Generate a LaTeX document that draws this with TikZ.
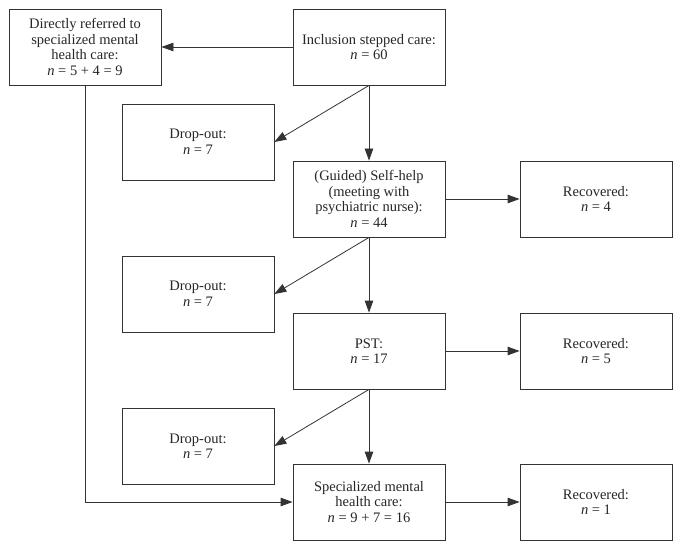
\documentclass[tikz,border=0pt]{standalone}
\usepackage{fontspec}
\setmainfont{Liberation Serif}
\usetikzlibrary{arrows.meta}

\tikzset{
    stagebox/.style={draw=black!80, line width=0.8pt, minimum width=152pt, minimum height=76pt,
        align=center, inner sep=2pt, text=black!85, font=\fontsize{14.5}{15.5}\selectfont},
    flow/.style={draw=black!80, line width=0.8pt, -{Triangle[length=12pt,width=8.5pt]}}
}

\begin{document}
\begin{tikzpicture}[x=1pt,y=-1pt]

    % Page frame
    \useasboundingbox (0,0) rectangle (685,548);

    % Main column of the stepped care
    \node[stagebox] (incl) at (369,47) {Inclusion stepped care:\\ \textit{n} = 60};
    \node[stagebox] (self) at (369,199) {(Guided) Self-help\\ (meeting with\\ psychiatric nurse):\\ \textit{n} = 44};
    \node[stagebox] (pst) at (369,351) {PST:\\ \textit{n} = 17};
    \node[stagebox] (spec) at (369,502) {Specialized mental\\ health care:\\ \textit{n} = 9 + 7 = 16};

    % Direct referral
    \node[stagebox] (direct) at (85,47) {Directly referred to\\ specialized mental\\ health care:\\ \textit{n} = 5 + 4 = 9};

    % Drop-out boxes
    \node[stagebox] (drop1) at (198,142) {Drop-out:\\ \textit{n} = 7};
    \node[stagebox] (drop2) at (198,294) {Drop-out:\\ \textit{n} = 7};
    \node[stagebox] (drop3) at (198,446) {Drop-out:\\ \textit{n} = 7};

    % Recovered boxes
    \node[stagebox] (rec1) at (596,199) {Recovered:\\ \textit{n} = 4};
    \node[stagebox] (rec2) at (596,351) {Recovered:\\ \textit{n} = 5};
    \node[stagebox] (rec3) at (596,502) {Recovered:\\ \textit{n} = 1};

    % Steps down the column
    \draw[flow] (incl) -- (self);
    \draw[flow] (self) -- (pst);
    \draw[flow] (pst) -- (spec);

    % Drop-outs leave from the bottom of each step
    \foreach \from/\to in {incl/drop1, self/drop2, pst/drop3} {
        \draw[flow] (\from.south) -- (\to.east);
    }

    % Recovered on the right
    \foreach \from/\to in {self/rec1, pst/rec2, spec/rec3} {
        \draw[flow] (\from) -- (\to);
    }

    % Direct referral and its way to specialized care
    \draw[flow] (incl) -- (direct);
    \draw[flow] (direct.south) |- (spec.west);

\end{tikzpicture}
\end{document}
